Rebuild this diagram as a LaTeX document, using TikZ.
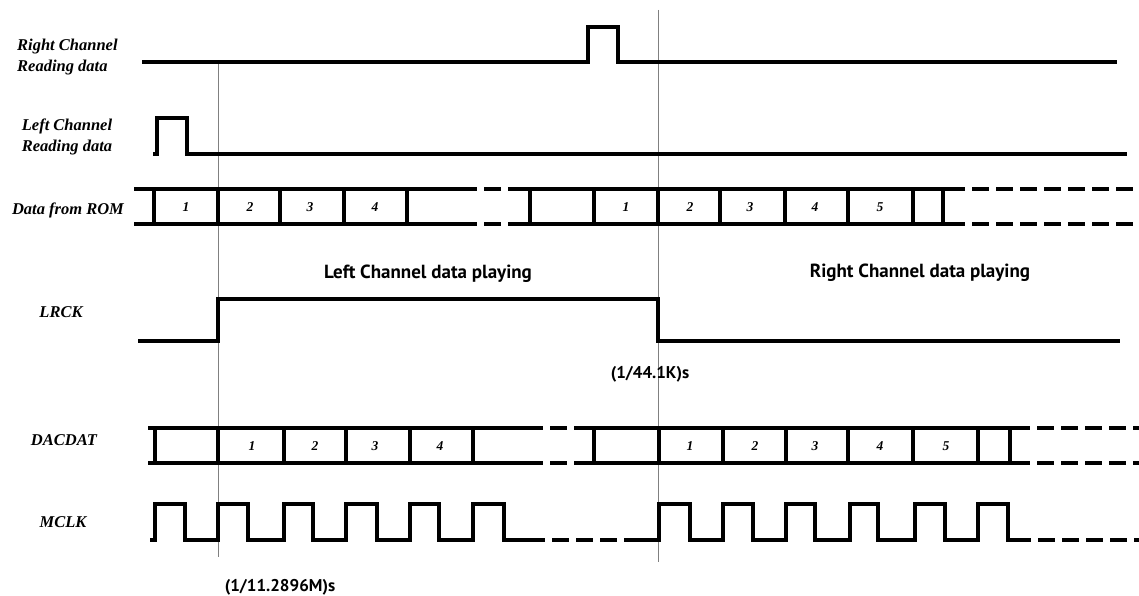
\documentclass[tikz,border=0pt]{standalone}
\usepackage{fontspec}
\newfontfamily\labsans{PT Sans}
\newfontfamily\labserif{Liberation Serif}
\tikzset{
  wave/.style={line width=3.5pt, line join=miter, line cap=butt},
  dwave/.style={line width=3.5pt, dash pattern=on 17pt off 7pt},
  guide/.style={line width=1pt, draw=gray},
  siglab/.style={font=\labserif\fontsize{16.5}{21}\selectfont\bfseries\itshape, inner sep=0pt},
  cell/.style={font=\labserif\fontsize{13.5}{14}\selectfont\bfseries\itshape, inner sep=0pt},
  note/.style={font=\labsans\fontsize{19}{21}\selectfont\bfseries, inner sep=0pt},
  tnote/.style={font=\labsans\fontsize{17}{18}\selectfont\bfseries, inner sep=0pt}
}
\begin{document}
\begin{tikzpicture}[x=1pt,y=-1pt]
\useasboundingbox (0,0) rectangle (1139,596);
\fill[white] (0,0) rectangle (1139,596);
% guide lines
\draw[guide] (218,62) -- (218,557);
\draw[guide] (658,10) -- (658,562);
% Right channel reading data
\draw[wave] (142,62) -- (588,62) -- (588,27) -- (618,27) -- (618,62) -- (1117,62);
% Left channel reading data
\draw[wave] (153,154) -- (157,154) -- (157,118) -- (187,118) -- (187,154) -- (1127,154);
% Data from ROM
\foreach \y in {189,224}{
  \draw[wave] (134,\y) -- (460,\y);
  \draw[dwave] (460,\y) -- (527,\y);
  \draw[wave] (525,\y) -- (948,\y);
  \draw[dwave] (948,\y) -- (1139,\y);
}
\foreach \x in {154,218,280,344,407,530,594,658,720,785,848,913,943}
  \draw[wave] (\x,189) -- (\x,224);
\foreach \x/\t [count=\i] in {186/1,250/2,310/3,375/4,626/1,690/2,750/3,815/4,880/5}
  \node[cell] (rom\i) at (\x,207) {\t};
% LRCK
\draw[wave] (138,341) -- (218,341) -- (218,299) -- (658,299) -- (658,341) -- (1120,341);
% DACDAT
\foreach \y in {428,463}{
  \draw[wave] (148,\y) -- (526,\y);
  \draw[dwave] (526,\y) -- (587,\y);
  \draw[wave] (585,\y) -- (1013,\y);
  \draw[dwave] (1013,\y) -- (1139,\y);
}
\foreach \x in {155,218,284,346,410,473,594,659,723,786,848,913,978,1010}
  \draw[wave] (\x,428) -- (\x,463);
\foreach \x/\t [count=\i] in {252/1,315/2,375/3,440/4,690/1,755/2,815/3,880/4,946/5}
  \node[cell] (dac\i) at (\x,446) {\t};
% MCLK
\draw[wave] (150,540) -- (155,540) -- (155,504) -- (185,504) -- (185,540)
  -- (218,540) -- (218,504) -- (248,504) -- (248,540)
  -- (284,540) -- (284,504) -- (313,504) -- (313,540)
  -- (346,540) -- (346,504) -- (377,504) -- (377,540)
  -- (410,540) -- (410,504) -- (439,504) -- (439,540)
  -- (473,540) -- (473,504) -- (504,504) -- (504,540) -- (528,540);
\draw[dwave] (528,540) -- (632,540);
\draw[wave] (630,540) -- (659,540) -- (659,504) -- (690,504) -- (690,540)
  -- (723,540) -- (723,504) -- (753,504) -- (753,540)
  -- (786,540) -- (786,504) -- (815,504) -- (815,540)
  -- (850,540) -- (850,504) -- (878,504) -- (878,540)
  -- (915,540) -- (915,504) -- (945,504) -- (945,540)
  -- (978,540) -- (978,504) -- (1008,504) -- (1008,540) -- (1014,540);
\draw[dwave] (1014,540) -- (1139,540);
% signal labels
\node[siglab, anchor=west, align=left] (lrd) at (17,57) {Right Channel\\Reading data};
\node[siglab, align=center] (lld) at (67,137) {Left Channel\\Reading data};
\node[siglab] (lrom) at (68,210) {Data from ROM};
\node[siglab] (llrck) at (61,312) {LRCK};
\node[siglab] (ldac) at (64,440) {DACDAT};
\node[siglab] (lmclk) at (63,522) {MCLK};
% notes
\node[note] (nleft) at (428,274) {Left Channel data playing};
\node[note] (nright) at (920,273) {Right Channel data playing};
\node[tnote] (nlr) at (650,374) {(1/44.1K)s};
\node[tnote] (nmc) at (280,587) {(1/11.2896M)s};
\end{tikzpicture}
\end{document}
